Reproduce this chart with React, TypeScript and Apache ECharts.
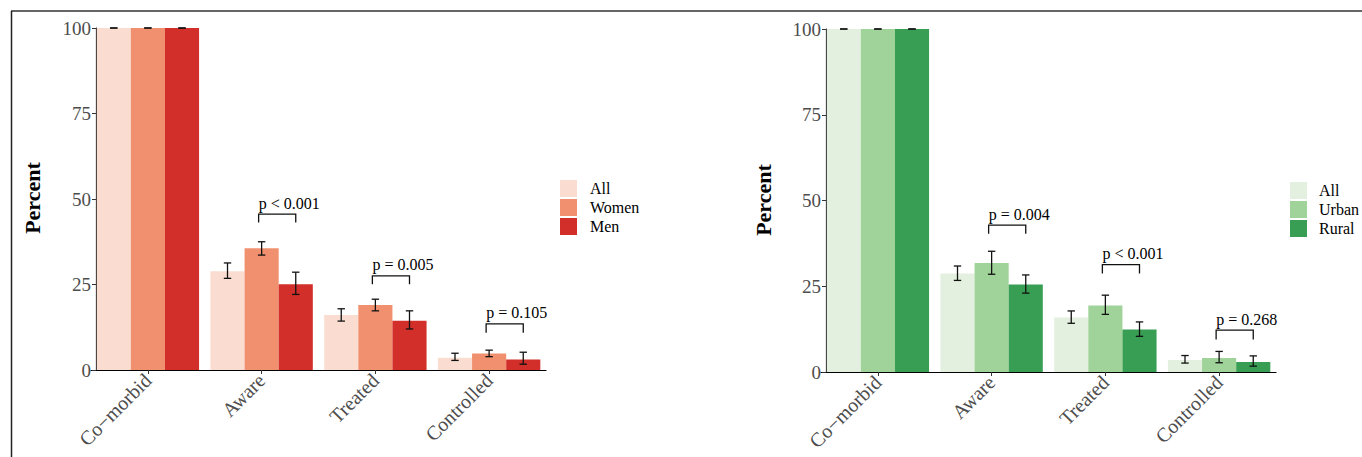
import React, { useEffect, useRef } from "react";
import * as echarts from "echarts";

const categories = ["Co−morbid", "Aware", "Treated", "Controlled"];
const yTickInterval = 25;

// Panel 1: by sex
const sexNames = ["All-sex", "Women", "Men"];
const sexColors = ["#FADDD0", "#F0906F", "#D22F2A"];
const sexAll = [100, 28.9, 16.1, 3.6];
const sexAllLo = [100, 26.8, 14.3, 2.8];
const sexAllHi = [100, 31.3, 17.9, 4.9];
const sexWomen = [100, 35.6, 19.0, 4.8];
const sexWomenLo = [100, 33.6, 17.3, 3.9];
const sexWomenHi = [100, 37.5, 20.7, 5.8];
const sexMen = [100, 25.1, 14.4, 3.1];
const sexMenLo = [100, 22.1, 12.0, 1.7];
const sexMenHi = [100, 28.6, 17.3, 5.2];
const sexPCats = [1, 2, 3];
const sexPLabels = ["p < 0.001", "p = 0.005", "p = 0.105"];
const sexPTop = [45.6, 27.5, 13.5];
const sexPBottom = [43.1, 25.1, 10.9];

// Panel 2: by area
const areaNames = ["All-area", "Urban", "Rural"];
const areaColors = ["#E3F0DF", "#A0D39A", "#379E53"];
const areaAll = [100, 28.7, 15.9, 3.5];
const areaAllLo = [100, 26.7, 14.2, 2.6];
const areaAllHi = [100, 30.9, 17.8, 4.8];
const areaUrban = [100, 31.8, 19.4, 4.1];
const areaUrbanLo = [100, 28.5, 16.8, 2.7];
const areaUrbanHi = [100, 35.2, 22.4, 6.0];
const areaRural = [100, 25.5, 12.4, 2.9];
const areaRuralLo = [100, 23.0, 10.4, 1.7];
const areaRuralHi = [100, 28.3, 14.6, 4.7];
const areaPCats = [1, 2, 3];
const areaPLabels = ["p = 0.004", "p < 0.001", "p = 0.268"];
const areaPTop = [42.8, 31.3, 12.2];
const areaPBottom = [40.3, 28.7, 9.5];

const SERIF = '"Liberation Serif", "Times New Roman", serif';

function makePanel(
  gi: number,
  names: string[],
  colors: string[],
  values: number[][],
  lows: number[][],
  highs: number[][],
  pCats: number[],
  pLabels: string[],
  pTop: number[],
  pBottom: number[]
) {
  const series: any[] = [];
  names.forEach((n, k) => {
    series.push({
      type: "bar",
      name: n,
      xAxisIndex: gi,
      yAxisIndex: gi,
      data: values[k],
      itemStyle: { color: colors[k] },
      barGap: "0%",
      barCategoryGap: "10%",
      z: 2,
    });
  });
  const errData: number[][] = [];
  names.forEach((_, k) => {
    categories.forEach((_c, ci) => {
      errData.push([ci, lows[k][ci], highs[k][ci], k]);
    });
  });
  series.push({
    type: "custom",
    xAxisIndex: gi,
    yAxisIndex: gi,
    z: 5,
    encode: { x: 0, y: [1, 2] },
    data: errData,
    renderItem: (params: any, api: any) => {
      const cat = api.value(0);
      const lo = api.value(1);
      const hi = api.value(2);
      const k = api.value(3);
      const band = api.size([1, 0])[0];
      const bw = (band * 0.9) / 3;
      const pLo = api.coord([cat, lo]);
      const pHi = api.coord([cat, hi]);
      const x = pLo[0] + (k - 1) * bw;
      const w = 3.7;
      const st = { stroke: "#111", lineWidth: 1.3 };
      return {
        type: "group",
        children: [
          { type: "line", shape: { x1: x, y1: pLo[1], x2: x, y2: pHi[1] }, style: st },
          { type: "line", shape: { x1: x - w, y1: pLo[1], x2: x + w, y2: pLo[1] }, style: st },
          { type: "line", shape: { x1: x - w, y1: pHi[1], x2: x + w, y2: pHi[1] }, style: st },
        ],
      };
    },
  });
  const brData = pCats.map((c, i) => [c, pTop[i], pBottom[i]]);
  series.push({
    type: "custom",
    xAxisIndex: gi,
    yAxisIndex: gi,
    z: 6,
    encode: { x: 0, y: [1, 2] },
    data: brData,
    renderItem: (params: any, api: any) => {
      const cat = api.value(0);
      const band = api.size([1, 0])[0];
      const bw = (band * 0.9) / 3;
      const pT = api.coord([cat, api.value(1)]);
      const yB = api.coord([cat, api.value(2)])[1];
      const x1 = pT[0] - 3;
      const x2 = pT[0] + bw;
      return {
        type: "group",
        children: [
          {
            type: "polyline",
            shape: { points: [[x1, yB], [x1, pT[1]], [x2, pT[1]], [x2, yB]] },
            style: { stroke: "#111", lineWidth: 1.3, fill: "none" },
          },
          {
            type: "text",
            x: x1,
            y: pT[1] - 3,
            style: {
              text: pLabels[params.dataIndex],
              fill: "#000",
              fontSize: 16,
              fontFamily: SERIF,
              align: "left",
              verticalAlign: "bottom",
            },
          },
        ],
      };
    },
  });
  return series;
}

const axisLabelStyle = { fontSize: 19, color: "#4d4d4d", fontFamily: SERIF };

function makeAxes(gi: number) {
  return {
    x: {
      type: "category",
      gridIndex: gi,
      data: categories,
      axisLine: { show: true, lineStyle: { color: "#000", width: 1.2 } },
      axisTick: { show: true, alignWithLabel: true, length: 4, lineStyle: { color: "#333" } },
      axisLabel: { ...axisLabelStyle, fontSize: 20, rotate: 45, margin: 7 },
      splitLine: { show: false },
    },
    y: {
      type: "value",
      gridIndex: gi,
      min: 0,
      max: 100,
      interval: yTickInterval,
      offset: -5,
      axisLine: { show: true, lineStyle: { color: "#000", width: 1.2 } },
      axisTick: { show: true, length: 4, lineStyle: { color: "#333" } },
      axisLabel: { ...axisLabelStyle, margin: 5 },
      splitLine: { show: false },
    },
  };
}

export default function App() {
  const ref = useRef<HTMLDivElement>(null);
  useEffect(() => {
    if (!ref.current) return;
    const chart = echarts.init(ref.current, undefined, { renderer: "svg" });
    const a0 = makeAxes(0);
    const a1 = makeAxes(1);
    const legendBase = {
      orient: "vertical",
      itemWidth: 17,
      itemHeight: 17,
      itemGap: 2,
      padding: 0,
      icon: "rect",
      selectedMode: false,
      formatter: (n: string) => n.split("-")[0],
    };
    const legendText = { fontFamily: SERIF, color: "#000", lineHeight: 17, fontSize: 16 };
    chart.setOption({
      animation: false,
      backgroundColor: "#fff",
      grid: [
        { left: 91, top: 28, width: 455, height: 342 },
        { left: 821, top: 29, width: 455, height: 343 },
      ],
      xAxis: [a0.x, a1.x],
      yAxis: [a0.y, a1.y],
      legend: [
        { ...legendBase, data: sexNames, left: 560, top: 180, textStyle: { ...legendText, padding: [0, 0, 0, 8] } },
        { ...legendBase, data: areaNames, left: 1290, top: 182, textStyle: { ...legendText, padding: [0, 0, 0, 7] } },
      ],
      graphic: [
        { type: "line", shape: { x1: 11, y1: 11, x2: 1362, y2: 11 }, style: { stroke: "#666", lineWidth: 2 } },
        { type: "line", shape: { x1: 11.5, y1: 11, x2: 11.5, y2: 457 }, style: { stroke: "#222", lineWidth: 1.5 } },
        {
          type: "text",
          x: 32,
          y: 198,
          rotation: Math.PI / 2,
          style: { text: "Percent", fontSize: 22, fontWeight: "bold", fontFamily: SERIF, fill: "#000", align: "center", verticalAlign: "middle" },
        },
        {
          type: "text",
          x: 763,
          y: 200,
          rotation: Math.PI / 2,
          style: { text: "Percent", fontSize: 22, fontWeight: "bold", fontFamily: SERIF, fill: "#000", align: "center", verticalAlign: "middle" },
        },
      ],
      series: [
        ...makePanel(
          0,
          sexNames,
          sexColors,
          [sexAll, sexWomen, sexMen],
          [sexAllLo, sexWomenLo, sexMenLo],
          [sexAllHi, sexWomenHi, sexMenHi],
          sexPCats,
          sexPLabels,
          sexPTop,
          sexPBottom
        ),
        ...makePanel(
          1,
          areaNames,
          areaColors,
          [areaAll, areaUrban, areaRural],
          [areaAllLo, areaUrbanLo, areaRuralLo],
          [areaAllHi, areaUrbanHi, areaRuralHi],
          areaPCats,
          areaPLabels,
          areaPTop,
          areaPBottom
        ),
      ],
    });
    return () => chart.dispose();
  }, []);
  return (
    <div
      ref={ref}
      style={{ position: "fixed", left: 0, top: 0, width: 1362, height: 457 }}
    />
  );
}
